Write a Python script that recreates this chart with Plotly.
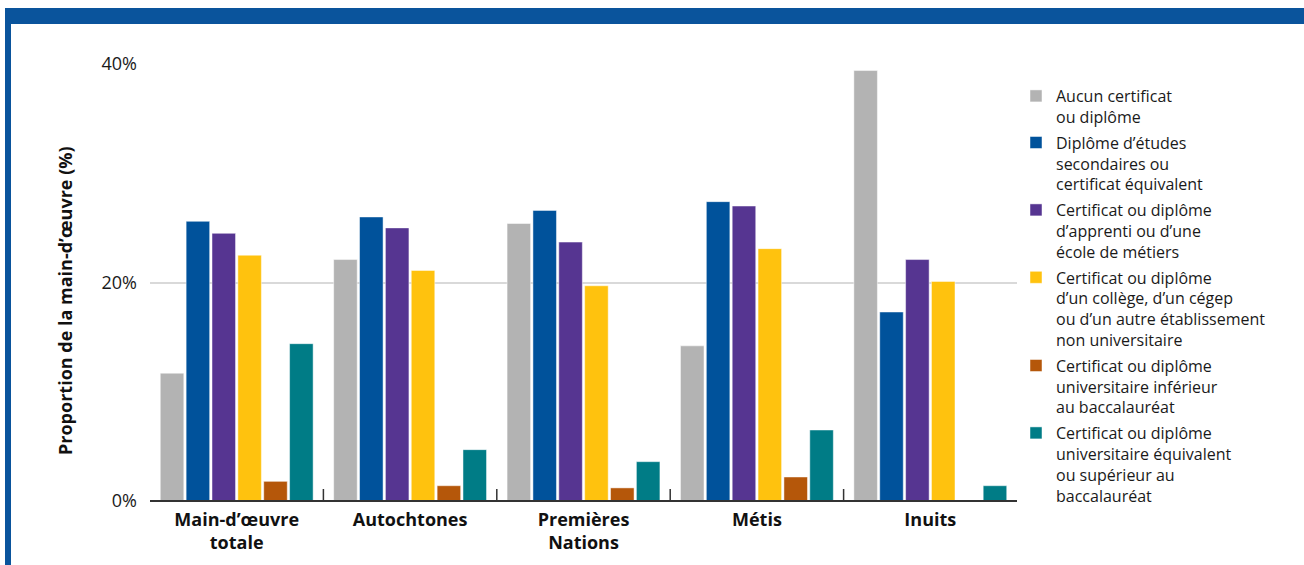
import plotly.graph_objects as go

categories = ["Main-d’œuvre<br>totale", "Autochtones", "Premières<br>Nations", "Métis", "Inuits"]

series_names = [
    "Aucun certificat<br>ou diplôme",
    "Diplôme d’études<br>secondaires ou<br>certificat équivalent",
    "Certificat ou diplôme<br>d’apprenti ou d’une<br>école de métiers",
    "Certificat ou diplôme<br>d’un collège, d’un cégep<br>ou d’un autre établissement<br>non universitaire",
    "Certificat ou diplôme<br>universitaire inférieur<br>au baccalauréat",
    "Certificat ou diplôme<br>universitaire équivalent<br>ou supérieur au<br>baccalauréat",
]

aucun = [11.7, 22.1, 25.4, 14.2, 39.4]
secondaires = [25.6, 26.0, 26.6, 27.4, 17.3]
apprenti = [24.5, 25.0, 23.7, 27.0, 22.1]
college = [22.5, 21.1, 19.7, 23.1, 20.1]
univ_inf = [1.8, 1.4, 1.2, 2.2, None]
univ_sup = [14.4, 4.7, 3.6, 6.5, 1.4]

series_values = [aucun, secondaires, apprenti, college, univ_inf, univ_sup]
colors = ["#B3B3B3", "#00529B", "#563591", "#FFC20E", "#B5570A", "#007C86"]

y_ticks = [0, 20, 40]
y_ticklabels = ["0%", "20%", "40%"]

FONT = "Open Sans"

fig = go.Figure()
for name, vals, col in zip(series_names, series_values, colors):
    fig.add_trace(go.Bar(
        x=categories, y=vals, name=name, legendgroup=name,
        marker=dict(color=col, line=dict(color="rgba(255,255,255,0.6)", width=0.8)),
    ))

# plot area in pixels
L, R, T, B = 150, 1017, 64, 501
W, H = 1304, 565
pw, ph = R - L, B - T

def px(x):
    return (x - L) / pw

def py(y):
    return (B - y) / ph

shapes = []
# blue frame
shapes.append(dict(type="rect", xref="paper", yref="paper", x0=px(5), x1=px(1304), y0=py(24), y1=py(8),
                   fillcolor="#0A549C", line=dict(width=0), layer="above"))
shapes.append(dict(type="rect", xref="paper", yref="paper", x0=px(5), x1=px(11), y0=py(565), y1=py(8),
                   fillcolor="#0A549C", line=dict(width=0), layer="above"))
# category separator ticks
for i in range(len(categories) - 1):
    shapes.append(dict(type="line", xref="x", yref="paper", x0=i + 0.5, x1=i + 0.5,
                       y0=0, y1=12 / ph, line=dict(color="#333333", width=1.5)))
# baseline
shapes.append(dict(type="line", xref="paper", yref="paper", x0=0, x1=1, y0=0, y1=0,
                   line=dict(color="#333333", width=2)))

fig.update_layout(
    width=W, height=H,
    margin=dict(l=L, r=W - R, t=T, b=H - B),
    paper_bgcolor="white", plot_bgcolor="white",
    barmode="group", bargap=0.105, bargroupgap=0.09,
    font=dict(family=FONT, color="#1a1a1a"),
    showlegend=True,
    legend=dict(x=px(1016), xanchor="left", y=py(79), yanchor="top",
                font=dict(family=FONT, size=16, color="#1a1a1a"),
                valign="top", tracegroupgap=2, traceorder="grouped",
                bgcolor="rgba(0,0,0,0)"),
    xaxis=dict(type="category", showgrid=False, showline=False, ticks="",
               tickfont=dict(family=FONT, size=18, color="#111111", weight="bold"),
               ticklabelstandoff=6),
    yaxis=dict(range=[0, 40], tickvals=y_ticks, ticktext=y_ticklabels,
               showgrid=True, gridcolor="#D9D9D9", gridwidth=2, zeroline=False,
               showline=False, ticks="", ticklabelstandoff=12,
               tickfont=dict(family=FONT, size=18, color="#1a1a1a")),
    shapes=shapes,
    annotations=[dict(text="<b>Proportion de la main-d’œuvre (%)</b>", textangle=-90,
                      xref="paper", yref="paper", x=px(65), y=py(301),
                      xanchor="center", yanchor="middle", showarrow=False,
                      font=dict(family=FONT, size=18, color="#111111"))],
)

fig.write_html("out.html")
